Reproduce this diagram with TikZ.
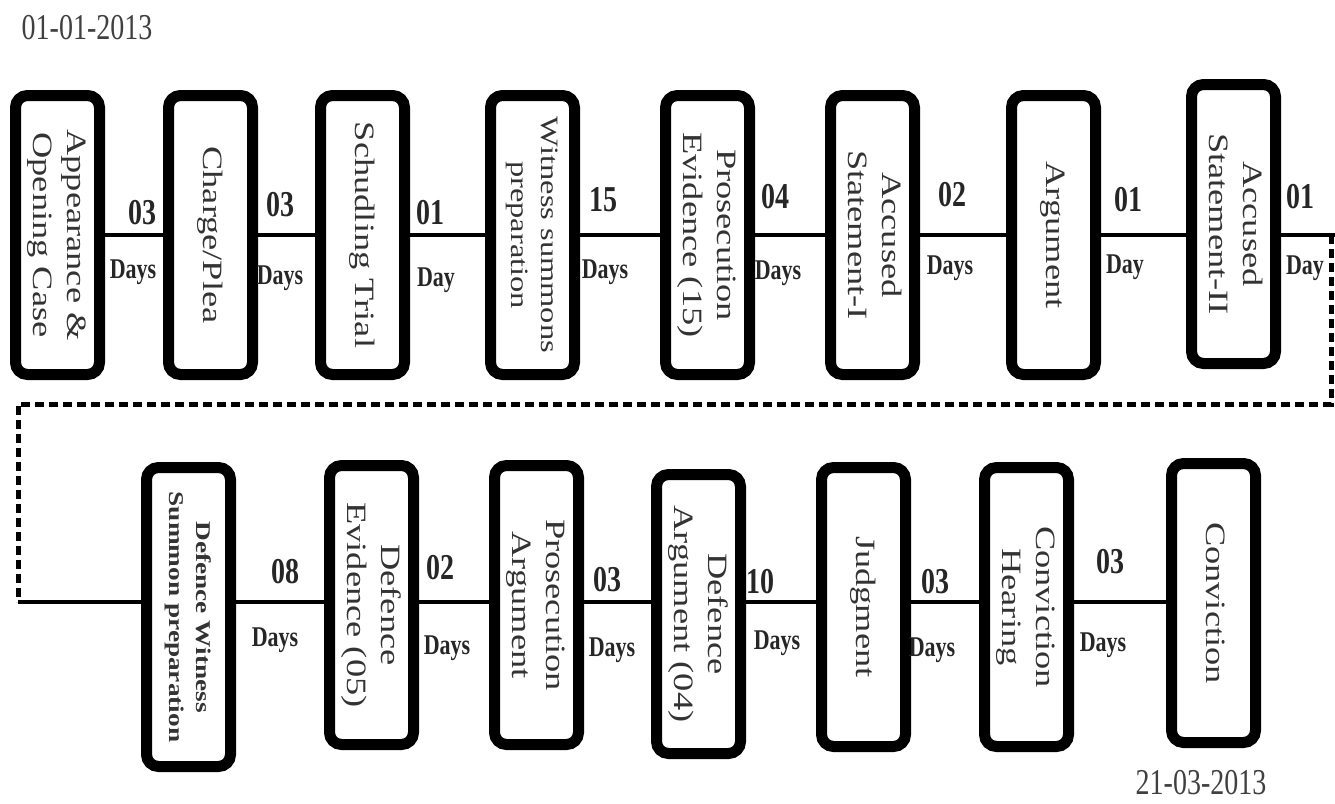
\documentclass[tikz,border=0pt]{standalone}
\usepackage{fontspec}
\setmainfont{Liberation Serif}
\usepackage{tikz}
\usetikzlibrary{positioning}

\newcommand{\vtext}[1]{\rotatebox{-90}{\scalebox{1.3}[1]{\begin{tabular}{@{}c@{}}#1\end{tabular}}}}
\newcommand{\tall}[1]{\scalebox{1}[1.3]{#1}}

\begin{document}
\begin{tikzpicture}
[
x = 1pt, y = -1pt,
box-a/.style={draw, line width = 11pt, rounded corners = 12pt, inner sep = 0pt, minimum width = 84pt, minimum height = 279pt, text = black!80, font = \fontsize{28}{34}\selectfont},
box-b/.style={box-a, minimum height = 299pt},
line-a/.style={line width = 4.5pt},
line-b/.style={line width = 5pt, dash pattern = on 9pt off 5pt},
text-a/.style={text = black!85, font = \bfseries\fontsize{28}{28}\selectfont},
text-b/.style={text = black!85, font = \bfseries\fontsize{22}{22}\selectfont},
text-c/.style={text = black!75, font = \fontsize{28}{28}\selectfont}
]
\useasboundingbox (0,0) rectangle (1335,803);
% turning points of the timeline
\coordinate (turn-a) at (1331,235);
\coordinate (turn-b) at (1331,404);
\coordinate (turn-c) at (18,404);
\coordinate (turn-d) at (18,602);
% first row
\node (box-1) [box-a] at (57.5,235)            {\vtext{Appearance \&\\Opening Case}};
\node (box-2) [box-a, right = 58pt of box-1]   {\vtext{Charge/Plea}};
\node (box-3) [box-a, right = 57pt of box-2]   {\vtext{Schudling Trial}};
\node (box-4) [box-a, right = 75pt of box-3, font = \fontsize{25}{30}\selectfont] {\vtext{Witness summons\\preparation}};
\node (box-5) [box-a, right = 80pt of box-4]   {\vtext{Prosecution\\Evidence (15)}};
\node (box-6) [box-a, right = 70pt of box-5]   {\vtext{Accused\\Statement-I}};
\node (box-7) [box-a, right = 86pt of box-6]   {\vtext{Argument}};
\node (box-8) [box-a, right = 85pt of box-7, yshift = 11pt] {\vtext{Accused\\Statement-II}};
% second row
\node (dbox-1) [box-b, font = \bfseries\fontsize{21}{27}\selectfont] at (188.5,617) {\vtext{Defence Witness\\Summon preparation}};
\node (dbox-2) [box-a, right = 88pt of dbox-1, yshift = 12pt] {\vtext{Defence\\Evidence (05)}};
\node (dbox-3) [box-a, right = 70pt of dbox-2]               {\vtext{Prosecution\\Argument}};
\node (dbox-4) [box-a, right = 67pt of dbox-3, yshift = -9pt] {\vtext{Defence\\Argument (04)}};
\node (dbox-5) [box-a, right = 70pt of dbox-4, yshift = 7pt]  {\vtext{Judgment}};
\node (dbox-6) [box-a, right = 68pt of dbox-5]               {\vtext{Conviction\\Hearing}};
\node (dbox-7) [box-a, right = 92pt of dbox-6, yshift = 4pt]  {\vtext{Conviction}};
% connectors
\draw[line-a] (box-1.east |- turn-a) -- (box-2.west |- turn-a);
\draw[line-a] (box-2.east |- turn-a) -- (box-3.west |- turn-a);
\draw[line-a] (box-3.east |- turn-a) -- (box-4.west |- turn-a);
\draw[line-a] (box-4.east |- turn-a) -- (box-5.west |- turn-a);
\draw[line-a] (box-5.east |- turn-a) -- (box-6.west |- turn-a);
\draw[line-a] (box-6.east |- turn-a) -- (box-7.west |- turn-a);
\draw[line-a] (box-7.east |- turn-a) -- (box-8.west |- turn-a);
\draw[line-a] (box-8.east |- turn-a) -- (1335,235 -| turn-a) -- ++(4,0);
\draw[line-b] (turn-a) -- (turn-b) -- (turn-c) -- (turn-d);
\draw[line-a] (turn-d) -- (dbox-1.west |- turn-d);
\draw[line-a] (dbox-1.east |- turn-d) -- (dbox-2.west |- turn-d);
\draw[line-a] (dbox-2.east |- turn-d) -- (dbox-3.west |- turn-d);
\draw[line-a] (dbox-3.east |- turn-d) -- (dbox-4.west |- turn-d);
\draw[line-a] (dbox-4.east |- turn-d) -- (dbox-5.west |- turn-d);
\draw[line-a] (dbox-5.east |- turn-d) -- (dbox-6.west |- turn-d);
\draw[line-a] (dbox-6.east |- turn-d) -- (dbox-7.west |- turn-d);
% durations
\node (num-1)  [text-a] at (142,213)  {\tall{03}};
\node (day-1)  [text-b] at (133,272)  {\tall{Days}};
\node (num-2)  [text-a] at (280,205)  {\tall{03}};
\node (day-2)  [text-b] at (280,278)  {\tall{Days}};
\node (num-3)  [text-a] at (430,213)  {\tall{01}};
\node (day-3)  [text-b] at (436,280)  {\tall{Day}};
\node (num-4)  [text-a] at (603,200)  {\tall{15}};
\node (day-4)  [text-b] at (605,272)  {\tall{Days}};
\node (num-5)  [text-a] at (775,197)  {\tall{04}};
\node (day-5)  [text-b] at (778,273)  {\tall{Days}};
\node (num-6)  [text-a] at (952,195)  {\tall{02}};
\node (day-6)  [text-b] at (950,268)  {\tall{Days}};
\node (num-7)  [text-a] at (1128,200) {\tall{01}};
\node (day-7)  [text-b] at (1125,267) {\tall{Day}};
\node (num-8)  [text-a] at (1300,197) {\tall{01}};
\node (day-8)  [text-b] at (1305,268) {\tall{Day}};
\node (num-9)  [text-a] at (285,572)  {\tall{08}};
\node (day-9)  [text-b] at (275,640)  {\tall{Days}};
\node (num-10) [text-a] at (440,568)  {\tall{02}};
\node (day-10) [text-b] at (447,648)  {\tall{Days}};
\node (num-11) [text-a] at (607,580)  {\tall{03}};
\node (day-11) [text-b] at (612,650)  {\tall{Days}};
\node (num-12) [text-a] at (760,582)  {\tall{10}};
\node (day-12) [text-b] at (777,643)  {\tall{Days}};
\node (num-13) [text-a] at (935,582)  {\tall{03}};
\node (day-13) [text-b] at (932,650)  {\tall{Days}};
\node (num-14) [text-a] at (1110,562) {\tall{03}};
\node (day-14) [text-b] at (1103,645) {\tall{Days}};
% dates
\node (date-start) [text-c] at (87,28)    {\tall{01-01-2013}};
\node (date-end)   [text-c] at (1201,783) {\tall{21-03-2013}};
\end{tikzpicture}
\end{document}
